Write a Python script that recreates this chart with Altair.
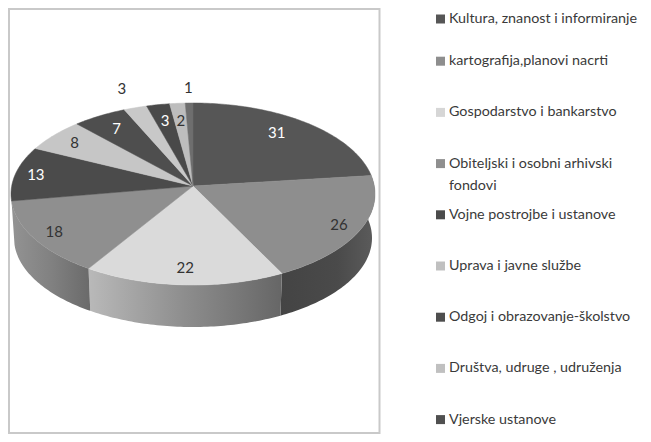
import math
import altair as alt
import pandas as pd

# --- chart values ---
values = [31, 26, 22, 18, 13, 8, 7, 3, 3, 2, 1]
slice_colors = ["#565656", "#8e8e8e", "#dadada", "#8f8f8f", "#4b4b4b", "#c6c6c6",
                "#4e4e4e", "#c8c8c8", "#494949", "#bdbdbd", "#6e6e6e"]
label_colors = ["#ffffff", "#333333", "#333333", "#333333", "#ffffff", "#333333",
                "#ffffff", "#333333", "#ffffff", "#333333", "#333333"]
legend_names = ["Kultura, znanost i informiranje", "kartografija,planovi nacrti",
                "Gospodarstvo i bankarstvo", "Obiteljski i osobni arhivski",
                "Vojne postrojbe i ustanove", "Uprava i javne službe",
                "Odgoj i obrazovanje-školstvo", "Društva, udruge , udruženja",
                "Vjerske ustanove"]
legend_extra_line = "fondovi"
legend_colors = ["#565656", "#8e8e8e", "#d6d6d6", "#8f8f8f", "#4b4b4b", "#c0c0c0",
                 "#4e4e4e", "#c0c0c0", "#505050"]

# --- layout of the tilted pie (page pixels) ---
W, H = 635, 426
CX, CY, A, B = 193, 194, 182, 91      # top ellipse
BOT_CY, BOT_A, BOT_B = 238, 179, 89   # bottom ellipse
TILT = 8 / 91                         # how far the hub sits above the ellipse centre
LABEL_R = [0.79, 0.88, 0.84, 0.88, 0.885, 0.845, 0.806, 1.26, 0.786, 0.772, 1.2]
LABEL_TURN = [-3.6, 0, 0, 0, 0, 0, 0, 0, 0, 0, 0]   # degrees
LEG_X, LEG_TXT, LEG_Y0, LEG_DY = 440.5, 449, 10, 51.2
FIRST_ROW_Y = 19                      # the first row must clear the top of the canvas
FONT = "Lato"
FSIZE = 14.3

TOTAL = sum(values)


def project(theta, r=1.0, cy=CY, a=A, b=B):
    """Circle point (clockwise from 12 o'clock) -> tilted ellipse on the page."""
    X, Y = r * math.sin(theta), r * math.cos(theta)
    den = 1 + TILT * Y
    u = X * math.sqrt(1 - TILT ** 2) / den
    v = (Y + TILT) / den
    return CX + u * a, cy - v * b


def angles(start, end):
    n = max(2, int(math.degrees(end - start)) + 2)
    return [start + (end - start) * k / (n - 1) for k in range(n)]


tops, sides, labels = [], {}, []
cum = 0
for idx, val in enumerate(values):
    t0 = 2 * math.pi * cum / TOTAL
    t1 = 2 * math.pi * (cum + val) / TOTAL
    pts = [project(0, 0)] + [project(t) for t in angles(t0, t1)] + [project(0, 0)]
    for i, (x, y) in enumerate(pts):
        tops.append({"s": idx, "i": i, "x": x, "y": y, "c": slice_colors[idx]})
    if idx in (1, 2, 3):
        rim = angles(t0, t1)
        poly = [project(t) for t in rim] + \
               [project(t, cy=BOT_CY, a=BOT_A, b=BOT_B) for t in reversed(rim)]
        poly.append(poly[0])
        sides[idx] = pd.DataFrame([{"i": i, "x": x, "y": y} for i, (x, y) in enumerate(poly)])
    mid = (t0 + t1) / 2 + math.radians(LABEL_TURN[idx])
    lx, ly = project(mid, LABEL_R[idx])
    labels.append({"x": lx, "y": ly, "t": str(val), "c": label_colors[idx]})
    cum += val

xs = alt.Scale(domain=[8, 8 + W], nice=False, zero=False)
ys = alt.Scale(domain=[8 + H, 8], nice=False, zero=False)
X = alt.X("x:Q", scale=xs, axis=None)
Y = alt.Y("y:Q", scale=ys, axis=None)


def grad(stops):
    return alt.Gradient(
        gradient="linear", x1=0, x2=1, y1=0, y2=0,
        stops=[alt.GradientStop(offset=o, color=c) for o, c in stops],
    )


side_grads = {
    1: [(0, "#444444"), (0.6, "#4a4a4a"), (1, "#5c5c5c")],
    2: [(0, "#b9b9b9"), (0.5, "#8d8d8d"), (1, "#666666")],
    3: [(0, "#939393"), (0.5, "#818181"), (1, "#6a6a6a")],
}

layers = []

frame = pd.DataFrame({"x": [9], "x2": [379.5], "y": [9], "y2": [433]})
layers.append(
    alt.Chart(frame).mark_rect(fill="#ffffff", stroke="#c9c9c9", strokeWidth=2).encode(
        x=X, x2="x2:Q", y=Y, y2="y2:Q"
    )
)

for idx, df in sides.items():
    layers.append(
        alt.Chart(df).mark_line(fill=grad(side_grads[idx]), strokeWidth=0, stroke=None).encode(
            x=X, y=Y, order="i:Q"
        )
    )

layers.append(
    alt.Chart(pd.DataFrame(tops)).mark_line(strokeWidth=0.5).encode(
        x=X, y=Y, order="i:Q", detail="s:N",
        fill=alt.Fill("c:N", scale=None),
        stroke=alt.Stroke("c:N", scale=None),
    )
)

layers.append(
    alt.Chart(pd.DataFrame(labels)).mark_text(font=FONT, fontSize=15, align="center", baseline="middle").encode(
        x=X, y=Y, text="t:N", color=alt.Color("c:N", scale=None)
    )
)

legend_rows = [
    {"x": LEG_X, "tx": LEG_TXT, "y": FIRST_ROW_Y if i == 0 else LEG_Y0 + LEG_DY * i,
     "t": n, "c": legend_colors[i]}
    for i, n in enumerate(legend_names)
]
legend_df = pd.DataFrame(legend_rows)
layers.append(
    alt.Chart(legend_df).mark_square(size=81, opacity=1).encode(
        x=X, y=Y, fill=alt.Fill("c:N", scale=None)
    )
)
text_rows = [{"x": r["tx"], "y": r["y"], "t": r["t"]} for r in legend_rows]
text_rows.append({"x": LEG_TXT, "y": LEG_Y0 + LEG_DY * 3 + 22, "t": legend_extra_line})
layers.append(
    alt.Chart(pd.DataFrame(text_rows)).mark_text(
        font=FONT, fontSize=FSIZE, align="left", baseline="middle", color="#3a3a3a"
    ).encode(x=X, y=Y, text="t:N")
)

chart = (
    alt.layer(*layers)
    .resolve_scale(color="independent", fill="independent", stroke="independent")
    .properties(width=W, height=H, padding=0, autosize="none", background="#ffffff")
    .configure_view(stroke=None)
)

chart.save("out.html", embed_options={"renderer": "svg", "actions": False})
